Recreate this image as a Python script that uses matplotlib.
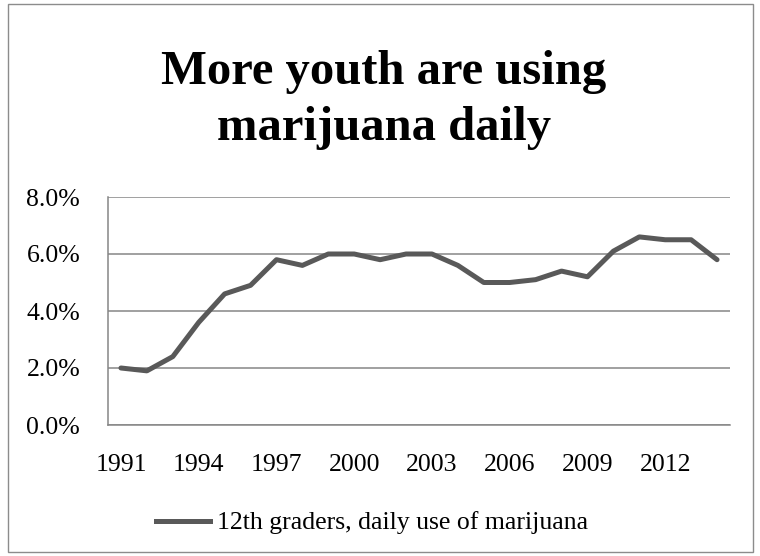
import matplotlib
matplotlib.use("Agg")
import matplotlib.pyplot as plt
from matplotlib.patches import Rectangle
from matplotlib.lines import Line2D

# data
years = list(range(1991, 2015))
daily_use = [2.0, 1.9, 2.4, 3.6, 4.6, 4.9, 5.8, 5.6, 6.0, 6.0, 5.8, 6.0,
             6.0, 5.6, 5.0, 5.0, 5.1, 5.4, 5.2, 6.1, 6.6, 6.5, 6.5, 5.8]
tick_years = [1991, 1994, 1997, 2000, 2003, 2006, 2009, 2012]
y_ticks = [0, 2, 4, 6, 8]
title_lines = ["More youth are using", "marijuana daily"]
series_name = "12th graders, daily use of marijuana"

plt.rcParams['font.family'] = ['Liberation Serif', 'DejaVu Serif']

W, H = 760, 556
fig = plt.figure(figsize=(W / 100, H / 100), dpi=100)

# outer chart border
fig.patches.append(Rectangle((8 / W, 4 / H), 745 / W, 548 / H,
                             transform=fig.transFigure, fill=False,
                             edgecolor='#8c8c8c', linewidth=1))

ax = fig.add_axes([108 / W, 1 - 425 / H, 622 / W, 228 / H])
ax.plot(years, daily_use, color='#595959', linewidth=3.6,
        solid_capstyle='round', solid_joinstyle='round')

ax.set_xlim(1990.5, 2014.5)
ax.set_ylim(0, 8)
ax.set_yticks(y_ticks)
ax.set_yticklabels([f"{v:.1f}%" for v in y_ticks])
ax.set_xticks(tick_years)
ax.set_xticklabels([str(y) for y in tick_years])
ax.tick_params(length=0, labelsize=18.5, labelcolor='black')
ax.tick_params(axis='y', pad=20)
ax.tick_params(axis='x', pad=21)

ax.grid(axis='y', color='#868686', linewidth=1.1)
ax.set_axisbelow(True)
for side in ['top', 'right']:
    ax.spines[side].set_visible(False)
for side in ['left', 'bottom']:
    ax.spines[side].set_color('#868686')
    ax.spines[side].set_linewidth(1.1)

# title, one text per line so the baselines sit where they should
for line, base in zip(title_lines, [84, 140]):
    fig.text(384 / W, 1 - base / H, line, ha='center', va='baseline',
             fontsize=35, fontweight='bold')

handle = Line2D([], [], color='#595959', linewidth=3.6)
fig.legend([handle], [series_name], loc='center',
           bbox_to_anchor=(372 / W, 1 - 523 / H), frameon=False,
           fontsize=18.5, handlelength=2.1, handletextpad=0.25)

fig.savefig("out.png", dpi=100)
